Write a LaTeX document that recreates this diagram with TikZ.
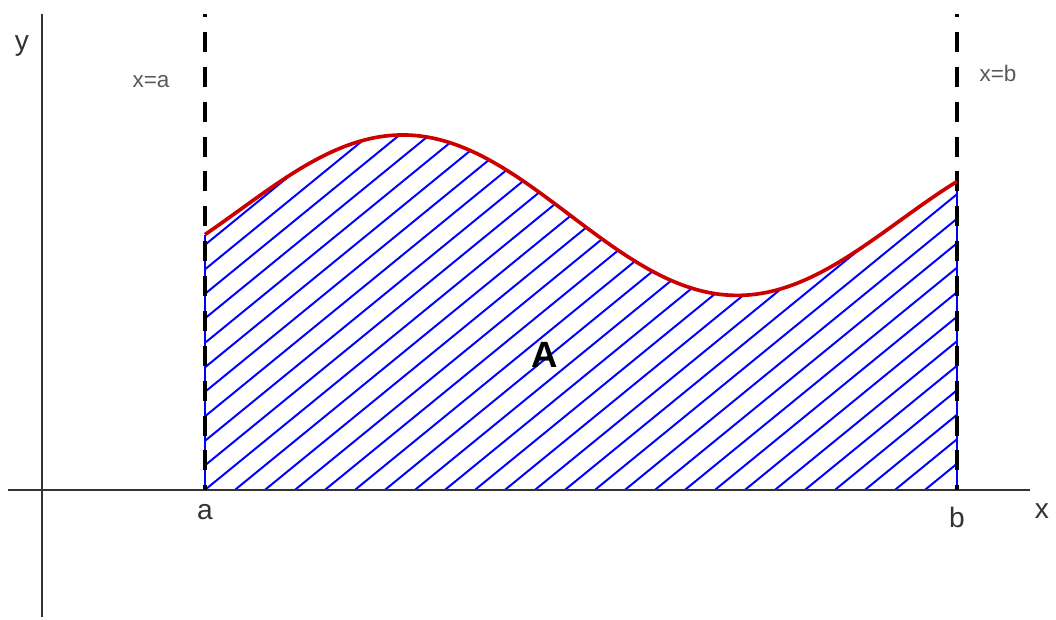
\documentclass[tikz,border=0pt]{standalone}
\usepackage{fontspec}
\setmainfont{Liberation Sans}
\begin{document}
\begin{tikzpicture}[x=0.025cm,y=-0.025cm,
  axis/.style={line width=1.2pt,draw=black!80},
  bound/.style={line width=3pt,black,dash pattern=on 14.2pt off 10.6pt,dash phase=12pt},
  hatch/.style={line width=1.4pt,blue},
  curve/.style={line width=2.6pt,draw={rgb,255:red,205;green,0;blue,0}},
  lbl/.style={text=black!80,font=\fontsize{20}{22}\selectfont,inner sep=0pt},
  small/.style={text=black!65,font=\fontsize{16}{18}\selectfont,inner sep=0pt}]
\useasboundingbox (0,0) rectangle (1056,619);
\def\f(#1){214-77.5*cos(((#1)-405)*0.545454)-4.8+0.01636*((#1)-205)}
% hatching
\begin{scope}
  \clip (205,490) -- plot[domain=205:957,samples=120,smooth] (\x,{\f(\x)}) -- (957,490) -- cycle;
  \foreach \k in {-20,...,26}{
    \draw[hatch] ({205+30*\k-10},498) -- ({205+30*\k+470},{490-384});
  }
\end{scope}
\draw[hatch] (205,490) -- (205,{\f(205)});
\draw[hatch] (957,490) -- (957,{\f(957)});
% axes
\coordinate (xs) at (8,490);
\coordinate (xe) at (1030,490);
\coordinate (ys) at (42,14);
\coordinate (ye) at (42,617);
\draw[axis] (xs) -- (xe);
\draw[axis] (ys) -- (ye);
% dashed bounds
\coordinate (at) at (205,14);
\coordinate (ab) at (205,490);
\coordinate (bt) at (957,14);
\coordinate (bb) at (957,490);
\draw[bound] (at) -- (ab);
\draw[bound] (bt) -- (bb);
% curve
\draw[curve] plot[domain=205:957,samples=120,smooth] (\x,{\f(\x)});
% labels
\node[lbl] (ly) at (22,46) {y};
\node[lbl] (lx) at (1042,511) {x};
\node[lbl] (la) at (205,512) {a};
\node[lbl] (lb) at (957,517) {b};
\node[small] (lxa) at (151,82) {x=a};
\node[small] (lxb) at (998,73) {x=b};
\node[inner sep=0pt,font=\fontsize{26}{28}\selectfont\bfseries] (lA) at (545,355) {A};
\end{tikzpicture}
\end{document}
